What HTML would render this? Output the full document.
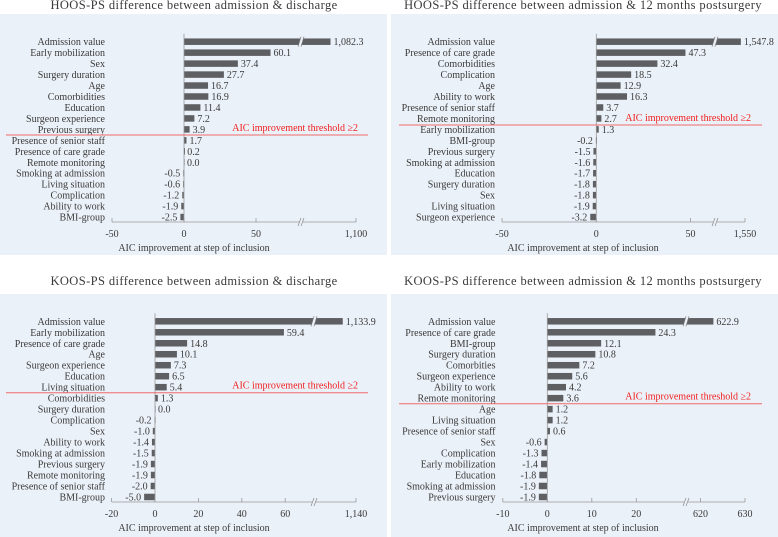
<!DOCTYPE html>
<html><head><meta charset="utf-8"><style>
html,body{margin:0;padding:0;background:#fff;width:778px;height:537px;overflow:hidden}
svg text{font-family:"Liberation Serif",serif;fill:#3a3a3a}
</style></head><body>
<svg id="chart" width="778" height="537" xmlns="http://www.w3.org/2000/svg"></svg>
<script>
// ---- data ----
const p1Labels = ["Admission value","Early mobilization","Sex","Surgery duration","Age","Comorbidities","Education","Surgeon experience","Previous surgery","Presence of senior staff","Presence of care grade","Remote monitoring","Smoking at admission","Living situation","Complication","Ability to work","BMI-group"];
const p1Values = [1082.3,60.1,37.4,27.7,16.7,16.9,11.4,7.2,3.9,1.7,0.2,0.0,-0.5,-0.6,-1.2,-1.9,-2.5];
const p1Ticks = [-50,0,50];
const p1UpperTicks = [1100];

const p2Labels = ["Admission value","Presence of care grade","Comorbidities","Complication","Age","Ability to work","Presence of senior staff","Remote monitoring","Early mobilization","BMI-group","Previous surgery","Smoking at admission","Education","Surgery duration","Sex","Living situation","Surgeon experience"];
const p2Values = [1547.8,47.3,32.4,18.5,12.9,16.3,3.7,2.7,1.3,-0.2,-1.5,-1.6,-1.7,-1.8,-1.8,-1.9,-3.2];
const p2Ticks = [-50,0,50];
const p2UpperTicks = [1550];

const p3Labels = ["Admission value","Early mobilization","Presence of care grade","Age","Surgeon experience","Education","Living situation","Comorbidities","Surgery duration","Complication","Sex","Ability to work","Smoking at admission","Previous surgery","Remote monitoring","Presence of senior staff","BMI-group"];
const p3Values = [1133.9,59.4,14.8,10.1,7.3,6.5,5.4,1.3,0.0,-0.2,-1.0,-1.4,-1.5,-1.9,-1.9,-2.0,-5.0];
const p3Ticks = [-20,0,20,40,60];
const p3UpperTicks = [1140];

const p4Labels = ["Admission value","Presence of care grade","BMI-group","Surgery duration","Comorbities","Surgeon experience","Ability to work","Remote monitoring","Age","Living situation","Presence of senior staff","Sex","Complication","Early mobilization","Education","Smoking at admission","Previous surgery"];
const p4Values = [622.9,24.3,12.1,10.8,7.2,5.6,4.2,3.6,1.2,1.2,0.6,-0.6,-1.3,-1.4,-1.8,-1.9,-1.9];
const p4Ticks = [-10,0,10,20];
const p4UpperTicks = [620,630];

const NS="http://www.w3.org/2000/svg";
const svg=document.getElementById('chart');
function mk(tag,attrs,parent){const e=document.createElementNS(NS,tag);for(const k in attrs)e.setAttribute(k,attrs[k]);(parent||svg).appendChild(e);return e;}
function fmt(v){const s=Math.abs(v).toFixed(1);const p=s.split('.');p[0]=p[0].replace(/\B(?=(\d{3})+(?!\d))/g,',');return (v<0?'-':'')+p.join('.');}
function fmtTick(v){return String(v).replace(/\B(?=(\d{3})+(?!\d))/g,',');}
const FS='10';

function panel(cfg,labels,values,ticks,upperTicks,name){
  const g=mk('g',{});
  
  
  const bg=mk('rect',{x:cfg.bx,y:cfg.by,width:cfg.bw,height:cfg.bh,fill:'#ebf1f8'},g);
  
  
  const t=mk('text',{x:cfg.tx,y:cfg.ty,'text-anchor':'middle','font-size':'12.5','letter-spacing':'0.4'},g);
  t.textContent=cfg.title;
  
  
  const lo=ticks[0], hiTop=upperTicks[upperTicks.length-1];
  const x=v=>{ if(v>cfg.breakV) return cfg.topX-(hiTop-v)*cfg.s; return cfg.zeroX+v*cfg.s; };
  const barH=6.5;
  labels.forEach((lab,i)=>{
    const y=cfg.y0+i*cfg.step;
    const l=mk('text',{x:cfg.labX,y:y+3.5,'text-anchor':'end','font-size':FS},g);
    l.textContent=lab;
    
    
    const v=values[i];
    const x0=x(0), x1=x(v);
    const b=mk('rect',{x:Math.min(x0,x1),y:y-barH/2,width:Math.max(Math.abs(x1-x0),v===0?0.6:1),height:barH,fill:'#5e5f62'},g);
    
    
    if(v>cfg.breakV){
      const bx=cfg.breakX;
      mk('polygon',{points:`${bx-2},${y+5} ${bx+1},${y-5} ${bx+4},${y-5} ${bx+1},${y+5}`,fill:'#ebf1f8'},g);
      mk('line',{x1:bx-2,y1:y+5,x2:bx+1,y2:y-5,stroke:'#777','stroke-width':0.7},g);
      mk('line',{x1:bx+1,y1:y+5,x2:bx+4,y2:y-5,stroke:'#777','stroke-width':0.7},g);
    }
    const vl=mk('text',{x:v<0?x1-3:x1+3,y:y+3.5,'text-anchor':v<0?'end':'start','font-size':FS},g);
    vl.textContent=fmt(v);
    
    
  });
  mk('line',{x1:x(0),y1:cfg.y0-8,x2:x(0),y2:cfg.axY,stroke:'#999','stroke-width':0.8},g);
  const ax=mk('g',{},g);
  
  
  mk('line',{x1:x(lo),y1:cfg.axY,x2:cfg.breakX-1,y2:cfg.axY,stroke:'#999','stroke-width':0.8},ax);
  mk('line',{x1:cfg.breakX+3,y1:cfg.axY,x2:x(hiTop),y2:cfg.axY,stroke:'#999','stroke-width':0.8},ax);
  mk('line',{x1:cfg.breakX-2,y1:cfg.axY+4,x2:cfg.breakX+1,y2:cfg.axY-4,stroke:'#888','stroke-width':0.7},ax);
  mk('line',{x1:cfg.breakX+1,y1:cfg.axY+4,x2:cfg.breakX+4,y2:cfg.axY-4,stroke:'#888','stroke-width':0.7},ax);
  ticks.concat(upperTicks).forEach(tv=>{
    const tx=x(tv);
    mk('line',{x1:tx,y1:cfg.axY,x2:tx,y2:cfg.axY-4,stroke:'#999','stroke-width':0.8},ax);
    const tl=mk('text',{x:tx,y:cfg.axY+15,'text-anchor':'middle','font-size':FS},ax);
    tl.textContent=fmtTick(tv);
    
    
  });
  const at=mk('text',{x:cfg.atX,y:cfg.axY+29,'text-anchor':'middle','font-size':FS},g);
  at.textContent='AIC improvement at step of inclusion';
  
  
  const rl=mk('line',{x1:cfg.rx1,y1:cfg.ry,x2:cfg.rx2,y2:cfg.ry,stroke:'#f06a6a','stroke-width':1},g);
  
  
  const rt=mk('text',{x:cfg.rtx,y:cfg.ry-4,'text-anchor':'end','font-size':FS,style:'fill:#f02020'},g);
  rt.textContent='AIC improvement threshold ≥2';
  
  
}

panel({bx:0,by:14,bw:387,bh:241,tx:194,ty:9,title:'HOOS-PS difference between admission & discharge',
  zeroX:184,s:1.44,breakV:80,breakX:300,topX:356,y0:41.7,step:10.96,labX:105,axY:222,atX:194,
  rx1:6,rx2:368,ry:135,rtx:358},p1Labels,p1Values,p1Ticks,p1UpperTicks,'panel-hoos-discharge');
panel({bx:391,by:14,bw:387,bh:241,tx:583,ty:9,title:'HOOS-PS difference between admission & 12 months postsurgery',
  zeroX:596.3,s:1.885,breakV:60,breakX:714,topX:745,y0:41.7,step:10.96,labX:495,axY:222,atX:583,
  rx1:399,rx2:762,ry:125,rtx:751},p2Labels,p2Values,p2Ticks,p2UpperTicks,'panel-hoos-12months');
panel({bx:0,by:294,bw:387,bh:243,tx:194,ty:285,title:'KOOS-PS difference between admission & discharge',
  zeroX:155,s:2.17,breakV:70,breakX:313,topX:356,y0:321.3,step:10.98,labX:105,axY:502,atX:194,
  rx1:6,rx2:368,ry:392.7,rtx:358},p3Labels,p3Values,p3Ticks,p3UpperTicks,'panel-koos-discharge');
panel({bx:391,by:294,bw:387,bh:243,tx:583,ty:285,title:'KOOS-PS difference between admission & 12 months postsurgery',
  zeroX:547.3,s:4.45,breakV:40,breakX:685,topX:745,y0:321.3,step:10.98,labX:495.5,axY:502,atX:583,
  rx1:399,rx2:762,ry:403.7,rtx:751},p4Labels,p4Values,p4Ticks,p4UpperTicks,'panel-koos-12months');
</script>
</body></html>
